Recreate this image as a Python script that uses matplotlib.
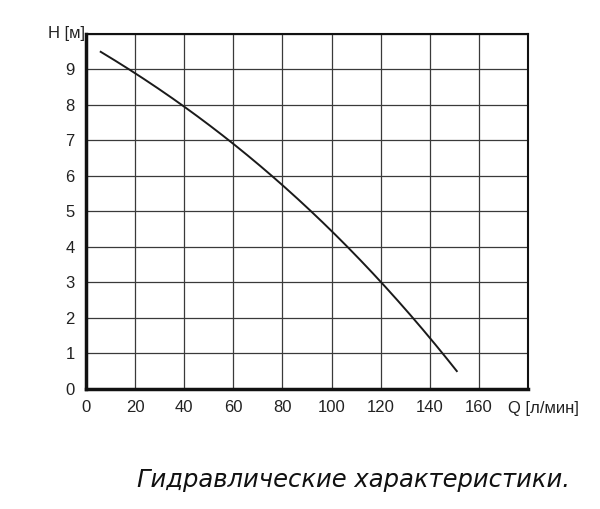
import matplotlib
matplotlib.use('Agg')
import matplotlib.pyplot as plt
import numpy as np

### Données. ###
q_flow = [6, 20, 40, 60, 80, 100, 120, 140, 151]
h_head = [9.47, 8.95, 7.94, 6.87, 5.75, 4.48, 3.0, 1.45, 0.5]
x_ticks = [0, 20, 40, 60, 80, 100, 120, 140, 160]
y_ticks = [0, 1, 2, 3, 4, 5, 6, 7, 8, 9]

tick_font = ['Liberation Sans Narrow', 'Liberation Sans', 'DejaVu Sans']

fig = plt.figure(figsize=(6, 5.09), dpi=100)
ax = fig.add_axes([0.1433, 0.2358, 0.7367, 0.6974])

# courbe lissée passant par les points lus
qs = np.linspace(q_flow[0], q_flow[-1], 200)
coef = np.polyfit(q_flow, h_head, 3)
ax.plot(qs, np.polyval(coef, qs), color='#1a1a1a', lw=1.4)

ax.set_xlim(0, 180)
ax.set_ylim(0, 10)
ax.set_xticks(list(range(0, 181, 20)))
ax.set_yticks(list(range(0, 11)))
ax.grid(True, color='#3a3a3a', lw=0.9)
ax.tick_params(length=0, pad=8)
ax.set_xticklabels([str(v) for v in x_ticks] + [''], fontsize=12, family=tick_font, color='#222222')
ax.set_yticklabels([str(v) for v in y_ticks] + [''], fontsize=12, family=tick_font, color='#222222')
for s in ['top', 'right']:
    ax.spines[s].set_linewidth(1.5)
for s in ['left', 'bottom']:
    ax.spines[s].set_linewidth(2.5)
for s in ax.spines.values():
    s.set_color('#111111')

fig.text(0.08, 0.935, 'H [м]', fontsize=12, family=tick_font, color='#222222', va='center')
fig.text(0.847, 0.198, 'Q [л/мин]', fontsize=12, family=tick_font, color='#222222', va='center')
fig.text(0.95, 0.057, 'Гидравлические характеристики.', fontsize=17.5, style='italic',
         family='DejaVu Sans', color='#111111', ha='right', va='center')

fig.savefig('out.png', dpi=100)
